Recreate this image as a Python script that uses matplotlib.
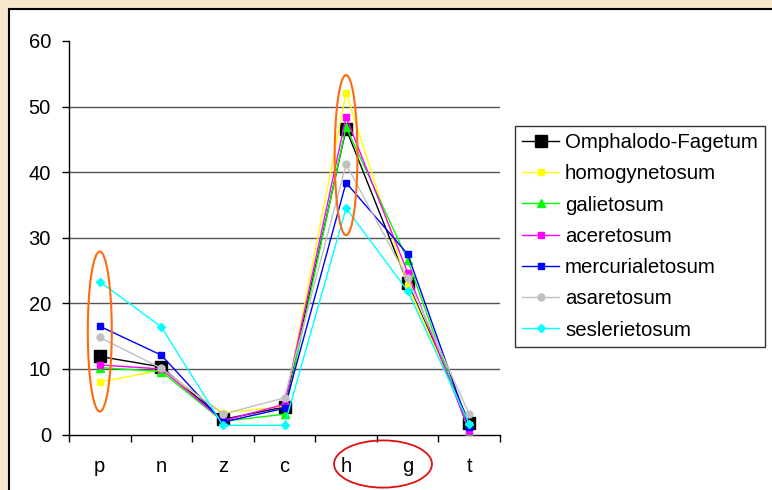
import matplotlib
matplotlib.use("Agg")
import matplotlib.pyplot as plt
from matplotlib.patches import Ellipse, Rectangle

plt.rcParams['font.family'] = ['Liberation Sans', 'DejaVu Sans']

categories = ['p', 'n', 'z', 'c', 'h', 'g', 't']
series_names = ['Omphalodo-Fagetum', 'homogynetosum', 'galietosum', 'aceretosum',
                'mercurialetosum', 'asaretosum', 'seslerietosum']
omphalodo = [11.9, 10.3, 2.3, 4.2, 46.6, 23.1, 1.8]
homogynetosum = [8.0, 9.8, 3.3, 4.3, 52.1, 22.8, 1.5]
galietosum = [10.2, 9.6, 2.0, 3.1, 46.9, 26.6, 0.3]
aceretosum = [10.6, 10.0, 2.1, 4.6, 48.4, 24.7, 0.6]
mercurialetosum = [16.5, 12.1, 1.9, 4.0, 38.4, 27.5, 1.1]
asaretosum = [14.8, 10.1, 3.1, 5.6, 41.2, 23.8, 3.1]
seslerietosum = [23.3, 16.4, 1.4, 1.4, 34.5, 21.9, 1.6]
yticks = [0, 10, 20, 30, 40, 50, 60]

all_series = [omphalodo, homogynetosum, galietosum, aceretosum,
              mercurialetosum, asaretosum, seslerietosum]
colors = ['#000000', '#FFFF00', '#00FF00', '#FF00FF', '#0000FF', '#C0C0C0', '#00FFFF']
markers = ['s', 's', '^', 's', 's', 'o', 'D']
msizes = [8.6, 5, 5.5, 5, 5, 5, 4.5]

W, H = 772, 490
fig = plt.figure(figsize=(W / 100, H / 100), dpi=100)
fig.patch.set_facecolor('#F5E8CC')

panel = Rectangle((9 / W, -0.1), 1.2, 1.1 - 9 / H, transform=fig.transFigure,
                  facecolor='white', edgecolor='black', linewidth=1.5, zorder=-10)
fig.patches.append(panel)

ax = fig.add_axes([69 / W, (H - 434.5) / H, 431 / W, 393.5 / H])
ax.set_facecolor('none')
ax.set_zorder(1)

x = list(range(len(categories)))
for vals, name, c, m, ms in zip(all_series, series_names, colors, markers, msizes):
    ax.plot(x, vals, color=c, marker=m, markersize=ms, markerfacecolor=c,
            markeredgecolor=c, linewidth=1.0, label=name, zorder=3)

ax.set_xlim(-0.5, len(categories) - 0.5)
ax.set_ylim(0, 60)
ax.set_yticks(yticks)
for yv in yticks[1:-1]:
    ax.axhline(yv, color='#555555', linewidth=1.0, zorder=1)

ax.set_xticks(x)
ax.set_xticklabels(categories, fontsize=14.5)
ax.set_xticks([i - 0.5 for i in range(len(categories) + 1)], minor=True)
ax.tick_params(axis='x', which='major', length=0, pad=16.5)
ax.tick_params(axis='x', which='minor', length=5, width=1, direction='out')
ax.tick_params(axis='y', length=5, width=1, direction='out', pad=8, labelsize=14.5)

for s in ['top', 'right']:
    ax.spines[s].set_visible(False)
for s in ['left', 'bottom']:
    ax.spines[s].set_color('black')
    ax.spines[s].set_linewidth(1.0)

# highlight ellipses
ax.add_patch(Ellipse((0, 15.7), 0.39, 24.4, fill=False, edgecolor='#FF6A10',
                     linewidth=1.5, zorder=4))
ax.add_patch(Ellipse((4, 42.6), 0.37, 24.4, fill=False, edgecolor='#FF6A10',
                     linewidth=1.5, zorder=4))
ax.add_patch(Ellipse((4.6, -4.5), 1.59, 7.2, fill=False, edgecolor='#E01010',
                     linewidth=1.3, clip_on=False, zorder=4))

leg = ax.legend(loc='upper left', bbox_to_anchor=(515 / W, 1 - 126 / H),
                bbox_transform=fig.transFigure, fontsize=14.7, frameon=True,
                fancybox=False, shadow=False, borderpad=0.35, labelspacing=0.6,
                handlelength=1.8, handletextpad=0.3, borderaxespad=0)
leg.get_frame().set_edgecolor('black')
leg.get_frame().set_linewidth(1.0)

fig.savefig('out.png', dpi=100, facecolor=fig.get_facecolor())
